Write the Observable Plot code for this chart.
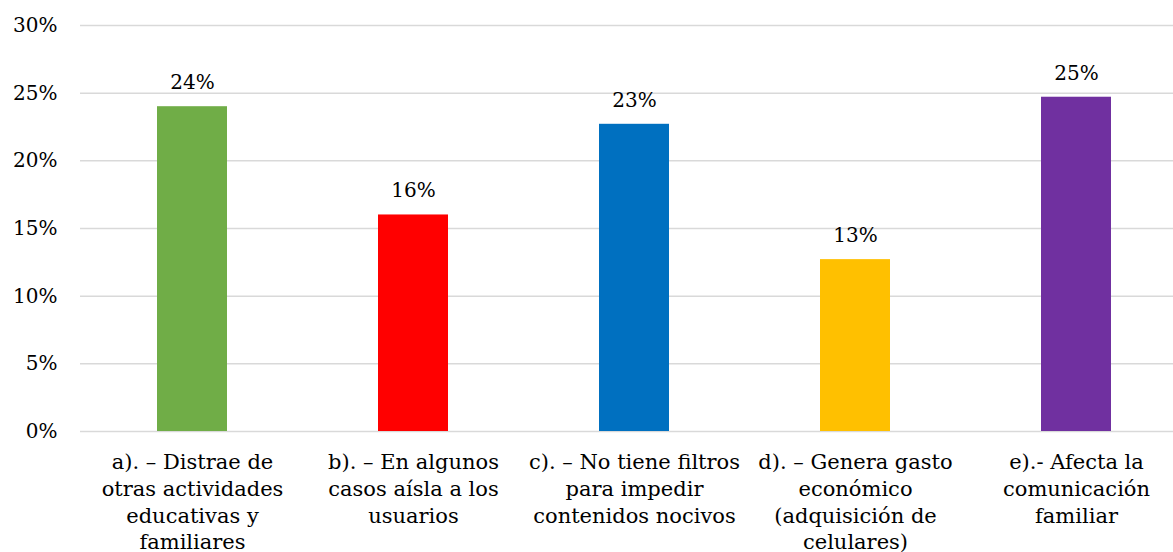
<!DOCTYPE html>
<html>
<head>
<meta charset="utf-8">
<script src="https://cdn.jsdelivr.net/npm/d3@7"></script>
<script src="https://cdn.jsdelivr.net/npm/@observablehq/plot@0.6"></script>
<style>
  html, body { margin: 0; padding: 0; background: #fff; }
  #chart svg { display: block; }
</style>
</head>
<body>
<div id="chart"></div>
<script>
const categories = ["a", "b", "c", "d", "e"];
const labels = [
  "a). – Distrae de\notras actividades\neducativas y\nfamiliares",
  "b). – En algunos\ncasos aísla a los\nusuarios",
  "c). – No tiene filtros\npara impedir\ncontenidos nocivos",
  "d). – Genera gasto\neconómico\n(adquisición de\ncelulares)",
  "e).- Afecta la\ncomunicación\nfamiliar"
];
const values = [0.240, 0.160, 0.227, 0.127, 0.247];
const valueLabels = ["24%", "16%", "23%", "13%", "25%"];
const colors = ["#70AD47", "#FF0000", "#0070C0", "#FFC000", "#7030A0"];
const yTicks = [0, 0.05, 0.10, 0.15, 0.20, 0.25, 0.30];

const data = categories.map((c, i) => ({cat: c, label: labels[i], value: values[i], vlabel: valueLabels[i], color: colors[i]}));

const font = "Georgia, 'DejaVu Serif', serif";

const chart = Plot.plot({
  width: 1173,
  height: 552,
  marginLeft: 80,
  marginRight: 0,
  marginTop: 25,
  marginBottom: 121,
  style: {fontFamily: font, fontSize: "20px", color: "#000", background: "#fff"},
  x: {domain: categories, range: [4.7, 1262.2], padding: 0.684, axis: null},
  y: {domain: [0, 0.30], axis: null},
  marks: [
    Plot.ruleY(yTicks, {stroke: "#d9d9d9", strokeWidth: 1.5}),
    Plot.barY(data, {x: "cat", y: "value", fill: "color"}),
    Plot.text(data, {x: "cat", y: "value", text: "vlabel", dy: -24, fontSize: 20, fill: "#000"}),
    Plot.axisY({ticks: yTicks, tickFormat: d => Math.round(d * 100) + "%", tickSize: 0, tickPadding: 23, fontSize: 20, fill: "#000", label: null}),
    Plot.text(data, {x: "cat", text: "label", frameAnchor: "bottom", lineAnchor: "top", dy: 19, lineHeight: 1.27, fontSize: 21, fill: "#000"})
  ]
});
document.getElementById("chart").appendChild(chart);
</script>
</body>
</html>
